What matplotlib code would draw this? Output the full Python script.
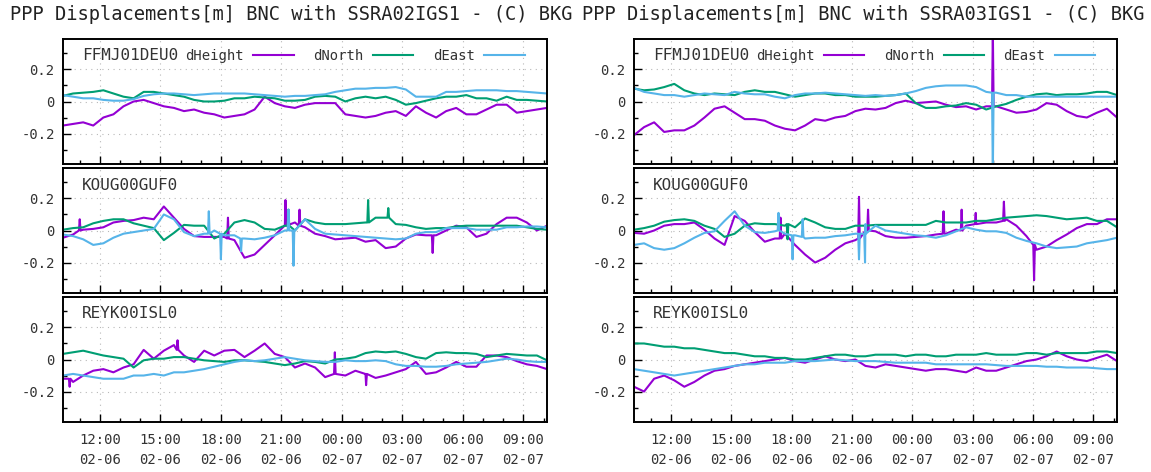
import matplotlib
matplotlib.use("Agg")
import matplotlib.pyplot as plt
import numpy as np
from matplotlib.ticker import MultipleLocator, FuncFormatter

plt.rcParams['font.family'] = ['DejaVu Sans Mono']

# sample times: hours since 02-06 00:00, one every 30 min
hours = 10.17 + 0.5 * np.arange(49)

titles = ['PPP Displacements[m] BNC with SSRA02IGS1 - (C) BKG',
          'PPP Displacements[m] BNC with SSRA03IGS1 - (C) BKG']
stations = ['FFMJ01DEU0', 'KOUG00GUF0', 'REYK00ISL0']
components = ['dHeight', 'dNorth', 'dEast']

# ---- FFMJ01DEU0, SSRA02 ----
ffmj_a_dh = [-0.15, -0.14, -0.13, -0.15, -0.10, -0.08, -0.03, 0.0, 0.01, -0.01,
             -0.03, -0.04, -0.06, -0.05, -0.07, -0.08, -0.10, -0.09, -0.08, -0.05,
             0.03, -0.01, -0.03, -0.04, -0.02, -0.01, -0.01, -0.01, -0.08, -0.09,
             -0.10, -0.09, -0.07, -0.06, -0.09, -0.03, -0.07, -0.10, -0.06, -0.04,
             -0.08, -0.08, -0.05, -0.02, -0.02, -0.07, -0.06, -0.05, -0.04]
ffmj_a_dn = [0.035, 0.05, 0.055, 0.06, 0.07, 0.05, 0.03, 0.02, 0.06, 0.06,
             0.05, 0.04, 0.03, 0.01, 0.0, 0.0, 0.005, 0.02, 0.02, 0.03,
             0.025, 0.02, 0.005, 0.005, 0.01, 0.03, 0.035, 0.03, 0.0, 0.02,
             0.03, 0.02, 0.03, 0.01, -0.02, -0.01, 0.005, 0.02, 0.03, 0.03,
             0.04, 0.02, 0.02, 0.005, 0.03, 0.01, 0.01, 0.005, 0.0]
ffmj_a_de = [0.04, 0.03, 0.02, 0.02, 0.01, 0.005, 0.005, 0.015, 0.035, 0.045,
             0.05, 0.05, 0.045, 0.04, 0.045, 0.05, 0.05, 0.05, 0.05, 0.045,
             0.04, 0.035, 0.03, 0.035, 0.035, 0.04, 0.045, 0.06, 0.07, 0.08,
             0.08, 0.085, 0.085, 0.09, 0.075, 0.03, 0.03, 0.03, 0.06, 0.06,
             0.065, 0.07, 0.07, 0.07, 0.065, 0.065, 0.06, 0.055, 0.05]

# ---- FFMJ01DEU0, SSRA03 ----
ffmj_b_dh = [-0.21, -0.16, -0.13, -0.19, -0.18, -0.18, -0.15, -0.10, -0.045, -0.03,
             -0.07, -0.11, -0.11, -0.12, -0.15, -0.17, -0.18, -0.15, -0.11, -0.12,
             -0.10, -0.09, -0.06, -0.045, -0.05, -0.04, -0.01, 0.005, -0.01, -0.005,
             0.0, -0.02, -0.035, -0.03, -0.05, -0.03, -0.03, -0.05, -0.07, -0.065,
             -0.05, -0.01, -0.02, -0.06, -0.09, -0.10, -0.07, -0.045, -0.10]
ffmj_b_dn = [0.08, 0.07, 0.075, 0.09, 0.11, 0.07, 0.05, 0.04, 0.05, 0.045,
             0.04, 0.06, 0.07, 0.06, 0.06, 0.045, 0.03, 0.04, 0.05, 0.05,
             0.04, 0.04, 0.03, 0.03, 0.03, 0.035, 0.04, 0.05, -0.01, -0.04,
             -0.04, -0.03, -0.025, -0.01, -0.02, -0.05, -0.03, -0.015, 0.01, 0.03,
             0.045, 0.05, 0.04, 0.045, 0.045, 0.05, 0.06, 0.06, 0.04]
ffmj_b_de = [0.085, 0.06, 0.05, 0.04, 0.04, 0.03, 0.04, 0.05, 0.045, 0.04,
             0.06, 0.05, 0.045, 0.045, 0.03, 0.02, 0.04, 0.05, 0.05, 0.055,
             0.05, 0.045, 0.04, 0.035, 0.04, 0.035, 0.04, 0.05, 0.065, 0.085,
             0.095, 0.1, 0.1, 0.1, 0.09, 0.06, 0.055, 0.04, 0.04, 0.03,
             0.03, 0.03, 0.03, 0.03, 0.03, 0.03, 0.03, 0.03, 0.03]

# ---- KOUG00GUF0, SSRA02 ----
koug_a_dh = [-0.045, -0.025, 0.005, 0.01, 0.02, 0.05, 0.06, 0.065, 0.08, 0.07,
             0.15, 0.08, 0.01, -0.035, -0.04, -0.04, -0.04, -0.06, -0.17, -0.15,
             -0.09, -0.03, 0.03, 0.05, 0.02, -0.02, -0.035, -0.055, -0.05, -0.045,
             -0.07, -0.06, -0.11, -0.10, -0.05, -0.025, -0.03, -0.03, 0.0, 0.03,
             0.02, -0.04, -0.02, 0.04, 0.08, 0.08, 0.05, 0.0, 0.03]
koug_a_dn = [0.005, 0.015, 0.02, 0.045, 0.06, 0.07, 0.07, 0.045, 0.03, 0.015,
             -0.06, -0.015, 0.035, 0.03, 0.03, -0.05, -0.02, 0.05, 0.065, 0.05,
             0.01, 0.005, 0.03, 0.0, 0.07, 0.05, 0.04, 0.04, 0.04, 0.045,
             0.05, 0.08, 0.08, 0.04, 0.035, 0.02, 0.01, 0.015, 0.015, 0.025,
             0.03, 0.03, 0.03, 0.03, 0.03, 0.03, 0.02, 0.01, 0.005]
koug_a_de = [-0.025, -0.035, -0.055, -0.09, -0.08, -0.045, -0.02, -0.01, 0.0, 0.01,
             0.10, 0.07, -0.01, -0.035, -0.02, 0.0, -0.03, -0.03, -0.05, -0.055,
             -0.045, -0.03, 0.0, 0.0, 0.07, 0.01, -0.02, -0.025, -0.03, -0.035,
             -0.04, -0.045, -0.05, -0.055, -0.05, -0.02, -0.01, -0.01, 0.015, 0.015,
             0.015, 0.005, 0.005, 0.005, 0.02, 0.02, 0.025, 0.025, 0.02]

# ---- KOUG00GUF0, SSRA03 ----
koug_b_dh = [-0.015, -0.02, 0.0, 0.03, 0.04, 0.04, 0.05, 0.005, -0.05, -0.09,
             0.09, 0.06, -0.01, -0.07, -0.05, -0.02, -0.09, -0.15, -0.20, -0.17,
             -0.12, -0.08, -0.06, 0.0, -0.005, -0.035, -0.045, -0.045, -0.04, -0.035,
             -0.025, -0.02, 0.005, 0.03, 0.05, 0.05, 0.05, 0.07, 0.03, -0.035,
             -0.12, -0.10, -0.06, -0.025, 0.015, 0.04, 0.04, 0.07, 0.07]
koug_b_dn = [0.005, 0.015, 0.03, 0.055, 0.065, 0.07, 0.06, 0.03, 0.01, -0.04,
             -0.02, 0.03, 0.045, 0.04, 0.04, 0.03, 0.02, 0.075, 0.05, 0.02,
             0.01, 0.01, 0.03, 0.03, 0.035, 0.035, 0.035, 0.035, 0.035, 0.035,
             0.06, 0.05, 0.05, 0.05, 0.06, 0.06, 0.07, 0.08, 0.085, 0.09,
             0.095, 0.09, 0.08, 0.07, 0.075, 0.08, 0.06, 0.06, 0.02]
koug_b_de = [-0.09, -0.08, -0.11, -0.12, -0.11, -0.08, -0.045, -0.015, -0.005, 0.06,
             0.12, 0.03, -0.01, -0.015, -0.005, -0.02, -0.03, -0.05, -0.045, -0.045,
             -0.035, -0.03, -0.02, 0.04, 0.03, 0.0, -0.01, -0.02, -0.03, -0.035,
             -0.045, -0.03, -0.005, 0.02, 0.005, -0.005, -0.005, -0.015, -0.045, -0.065,
             -0.08, -0.10, -0.11, -0.105, -0.10, -0.08, -0.07, -0.06, -0.045]

# ---- REYK00ISL0, SSRA02 ----
reyk_a_dh = [-0.12, -0.14, -0.10, -0.07, -0.06, -0.08, -0.05, -0.03, 0.06, 0.005,
             0.055, 0.09, 0.025, -0.015, 0.055, 0.025, 0.055, 0.06, 0.015, 0.055,
             0.10, 0.035, 0.015, -0.05, -0.025, -0.05, -0.11, -0.025, -0.10, -0.07,
             -0.09, -0.115, -0.10, -0.08, -0.06, -0.015, -0.09, -0.08, -0.05, -0.015,
             -0.045, -0.045, 0.025, 0.025, 0.015, -0.01, -0.03, -0.04, -0.06]
reyk_a_dn = [0.035, 0.045, 0.055, 0.04, 0.025, 0.015, 0.005, -0.05, -0.005, 0.005,
             0.005, 0.015, 0.015, 0.005, -0.005, -0.01, -0.015, -0.005, -0.005, -0.01,
             -0.015, -0.025, -0.035, -0.025, -0.01, -0.015, -0.025, 0.0, 0.005, 0.015,
             0.04, 0.05, 0.045, 0.05, 0.035, 0.015, 0.005, 0.04, 0.045, 0.04,
             0.04, 0.035, 0.015, 0.025, 0.035, 0.03, 0.025, 0.025, -0.005]
reyk_a_de = [-0.10, -0.09, -0.10, -0.11, -0.12, -0.12, -0.12, -0.10, -0.10, -0.09,
             -0.10, -0.08, -0.08, -0.07, -0.06, -0.045, -0.03, -0.015, -0.005, -0.01,
             -0.005, 0.005, 0.015, 0.005, -0.005, -0.01, -0.015, -0.015, -0.005, -0.01,
             -0.01, -0.005, -0.01, -0.03, -0.04, -0.04, -0.045, -0.045, -0.04, -0.03,
             -0.025, -0.02, -0.015, -0.005, 0.005, 0.0, -0.01, -0.015, -0.015]

# ---- REYK00ISL0, SSRA03 ----
reyk_b_dh = [-0.17, -0.20, -0.12, -0.10, -0.13, -0.17, -0.14, -0.10, -0.07, -0.06,
             -0.04, -0.03, -0.02, -0.01, 0.0, 0.01, -0.01, -0.02, 0.0, 0.02,
             0.0, -0.01, 0.0, -0.04, -0.05, -0.03, -0.04, -0.05, -0.06, -0.07,
             -0.06, -0.06, -0.07, -0.08, -0.05, -0.07, -0.07, -0.05, -0.03, -0.01,
             0.0, 0.02, 0.05, 0.02, 0.0, -0.01, 0.01, 0.03, -0.01]
reyk_b_dn = [0.10, 0.10, 0.09, 0.08, 0.08, 0.07, 0.07, 0.06, 0.05, 0.04,
             0.04, 0.03, 0.02, 0.02, 0.01, 0.01, 0.0, 0.0, 0.01, 0.02,
             0.03, 0.03, 0.02, 0.02, 0.03, 0.03, 0.03, 0.02, 0.03, 0.03,
             0.02, 0.02, 0.03, 0.03, 0.03, 0.04, 0.03, 0.03, 0.03, 0.04,
             0.04, 0.03, 0.04, 0.04, 0.04, 0.04, 0.05, 0.05, 0.04]
reyk_b_de = [-0.06, -0.07, -0.08, -0.09, -0.10, -0.09, -0.08, -0.07, -0.06, -0.05,
             -0.04, -0.03, -0.03, -0.02, -0.02, -0.02, -0.01, -0.01, -0.01, -0.005,
             0.0, -0.005, -0.01, -0.01, -0.01, -0.015, -0.02, -0.02, -0.02, -0.02,
             -0.03, -0.03, -0.03, -0.03, -0.03, -0.03, -0.035, -0.04, -0.04, -0.04,
             -0.04, -0.045, -0.045, -0.05, -0.05, -0.05, -0.055, -0.06, -0.06]

# short outliers: (hour, level around it, tip)
spikes = {
    ('ffmj_b', 'dh'): [(28.0, -0.03, 0.45)],
    ('ffmj_b', 'de'): [(28.0, 0.055, -0.45)],
    ('koug_a', 'dh'): [(11.0, 0.0, 0.07), (18.35, -0.05, 0.08), (21.2, 0.03, 0.19),
                       (21.9, 0.03, 0.13), (28.5, -0.03, -0.14)],
    ('koug_a', 'dn'): [(21.35, 0.03, 0.13), (25.3, 0.05, 0.19), (26.3, 0.08, 0.14)],
    ('koug_a', 'de'): [(17.4, -0.02, 0.12), (18.0, -0.02, -0.18), (19.0, -0.05, -0.13),
                       (21.35, 0.0, 0.13), (21.6, 0.0, -0.22)],
    ('koug_b', 'dh'): [(17.45, -0.05, 0.08), (21.35, -0.05, 0.21), (21.8, 0.0, 0.13),
                       (25.55, -0.02, 0.12), (26.45, 0.0, 0.13), (27.15, 0.04, 0.11),
                       (28.55, 0.06, 0.18), (30.05, -0.09, -0.31)],
    ('koug_b', 'dn'): [(17.8, 0.04, -0.055)],
    ('koug_b', 'de'): [(17.35, 0.0, 0.11), (18.05, -0.03, -0.18), (18.55, -0.04, 0.07),
                       (21.35, -0.02, -0.18), (21.65, -0.02, -0.2)],
    ('reyk_a', 'dh'): [(10.5, -0.12, -0.17), (15.85, 0.06, 0.12), (23.65, -0.09, 0.045),
                       (25.2, -0.09, -0.16)],
}

series = {
    'ffmj_a': (ffmj_a_dh, ffmj_a_dn, ffmj_a_de),
    'ffmj_b': (ffmj_b_dh, ffmj_b_dn, ffmj_b_de),
    'koug_a': (koug_a_dh, koug_a_dn, koug_a_de),
    'koug_b': (koug_b_dh, koug_b_dn, koug_b_de),
    'reyk_a': (reyk_a_dh, reyk_a_dn, reyk_a_de),
    'reyk_b': (reyk_b_dh, reyk_b_dn, reyk_b_de),
}

colors = ['#9400d3', '#009e73', '#56b4e9']
txt = '#333333'


def with_spikes(vals, spk):
    t = list(hours)
    v = list(vals)
    for ts, base, tip in spk:
        t += [ts - 0.04, ts, ts + 0.04]
        v += [base, tip, base]
    order = np.argsort(t, kind='stable')
    return np.array(t)[order], np.array(v)[order]


def hhmm(h, pos):
    h = int(round(h))
    return f'{h % 24:02d}:00\n02-{6 + h // 24:02d}'


def yfmt(v, pos):
    return '0' if abs(v) < 1e-9 else f'{v:.1f}'


fig = plt.figure(figsize=(11.51, 4.72), dpi=100)

lefts = [63 / 1151, 634 / 1151]
widths = [484 / 1151, 483 / 1151]
bottoms = [1 - 164 / 472, 1 - 293 / 472, 1 - 422 / 472]
height = 125 / 472
keys = [['ffmj_a', 'koug_a', 'reyk_a'], ['ffmj_b', 'koug_b', 'reyk_b']]

for c in range(2):
    for r in range(3):
        key = keys[c][r]
        ax = fig.add_axes([lefts[c], bottoms[r], widths[c], height])
        lines = []
        for j, comp in enumerate(('dh', 'dn', 'de')):
            t, v = with_spikes(series[key][j], spikes.get((key, comp), []))
            ln, = ax.plot(t, v, color=colors[j], lw=1.5, label=components[j])
            lines.append(ln)

        ax.set_xlim(10.17, 34.17)
        ax.set_ylim(-0.39, 0.39)
        ax.xaxis.set_major_locator(MultipleLocator(3))
        ax.xaxis.set_minor_locator(MultipleLocator(1))
        ax.yaxis.set_major_locator(MultipleLocator(0.2))
        ax.yaxis.set_minor_locator(MultipleLocator(0.1))
        ax.xaxis.set_major_formatter(FuncFormatter(hhmm))
        ax.yaxis.set_major_formatter(FuncFormatter(yfmt))
        ax.tick_params(which='both', direction='in', top=False, right=False,
                       colors='black', labelcolor=txt, labelsize=10, width=1)
        ax.tick_params(which='major', length=5.5)
        ax.tick_params(which='minor', length=3)
        ax.tick_params(axis='x', pad=8)
        ax.tick_params(axis='y', pad=6)
        for lab in ax.get_xticklabels():
            lab.set_linespacing(1.55)
        if r < 2:
            ax.tick_params(labelbottom=False)
        ax.grid(True, which='major', color='#b8b8b8', lw=0.8, linestyle=(0, (1, 4)))
        ax.set_axisbelow(True)
        for s in ax.spines.values():
            s.set_linewidth(1.4)

        ax.text(19 / 484, 0.864, stations[r], transform=ax.transAxes,
                ha='left', va='center', fontsize=11.5, color=txt)
        if r == 0:
            ax.legend(handles=lines, loc='center left', bbox_to_anchor=(0.252, 0.864),
                      ncol=3, frameon=False, markerfirst=False, fontsize=10,
                      handlelength=2.9, handletextpad=0.7, columnspacing=1.4,
                      borderpad=0, borderaxespad=0, labelcolor=txt)

fig.text(291 / 1151, 1 - 14 / 472, titles[0], ha='center', va='center',
         fontsize=13.5, color='#222222')
fig.text(863 / 1151, 1 - 14 / 472, titles[1], ha='center', va='center',
         fontsize=13.5, color='#222222')

fig.savefig('out.png', dpi=100)
